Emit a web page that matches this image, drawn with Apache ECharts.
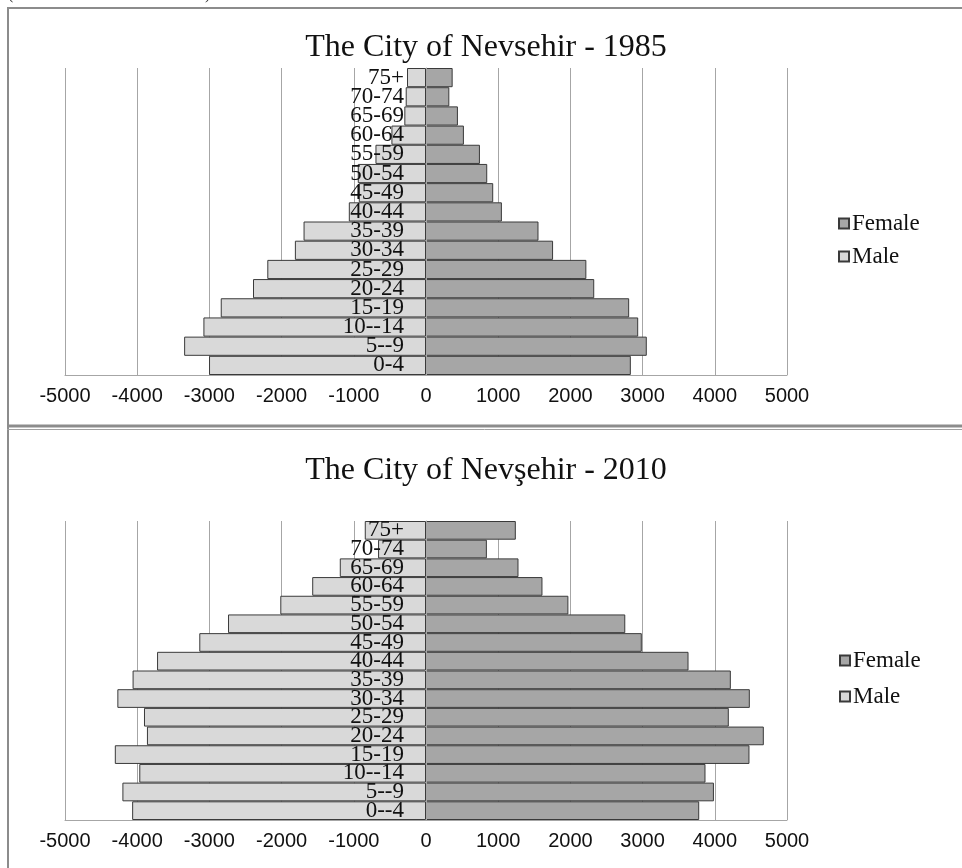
<!DOCTYPE html>
<html>
<head>
<meta charset="utf-8">
<script src="https://cdn.jsdelivr.net/npm/echarts@6/dist/echarts.min.js"></script>
<style>
html,body{margin:0;padding:0;background:#fff;}
#chart{width:962px;height:868px;}
</style>
</head>
<body>
<div id="chart"></div>
<script>
// ---- data ----
const ageGroups1985 = ['0-4','5--9','10--14','15-19','20-24','25-29','30-34','35-39','40-44','45-49','50-54','55-59','60-64','65-69','70-74','75+'];
const ageGroups2010 = ['0--4','5--9','10--14','15-19','20-24','25-29','30-34','35-39','40-44','45-49','50-54','55-59','60-64','65-69','70-74','75+'];
const male1985   = [3005,3350,3083,2843,2396,2198,1816,1696,1069,931,945,700,479,300,281,263];
const female1985 = [2837,3058,2939,2814,2330,2221,1760,1558,1051,931,848,747,525,442,323,369];
const male2010   = [4070,4205,3971,4310,3865,3906,4275,4064,3725,3140,2742,2018,1576,1194,664,848];
const female2010 = [3784,3988,3871,4480,4679,4194,4485,4222,3636,2989,2760,1972,1613,1281,843,1244];
const xTicks = [-5000,-4000,-3000,-2000,-1000,0,1000,2000,3000,4000,5000];
const titles = ['The City of Nevsehir - 1985','The City of Nevşehir - 2010'];
const seriesNames = ['Female','Male'];

// ---- styles ----
const SERIF = '"Liberation Serif","Times New Roman",serif';
const NARROW = '"Liberation Sans Narrow","Liberation Sans",sans-serif';
const MALE_COLOR = '#d9d9d9';
const FEMALE_COLOR = '#a6a6a6';
const BORDER = '#3a3a3a';
const GRID_COLOR = '#a6a6a6';
const GRID_LEFT = 65, GRID_WIDTH = 722;

const chart = echarts.init(document.getElementById('chart'), null, {renderer:'canvas'});

function xAxisFor(gi){
  return {
    type:'value', gridIndex:gi,
    min:xTicks[0], max:xTicks[xTicks.length-1], interval:xTicks[1]-xTicks[0],
    axisLine:{show:true, lineStyle:{color:GRID_COLOR, width:1}},
    axisTick:{show:false},
    splitLine:{show:true, lineStyle:{color:GRID_COLOR, width:1}},
    axisLabel:{margin:11, fontFamily:NARROW, fontSize:20, color:'#111', formatter:v=>String(v)}
  };
}
function yAxisFor(gi, cats){
  return {
    type:'category', gridIndex:gi, data:cats, z:10, position:'left',
    offset:-(GRID_WIDTH/2),
    axisLine:{show:true, onZero:false, lineStyle:{color:GRID_COLOR, width:1}},
    axisTick:{show:false},
    splitLine:{show:false},
    axisLabel:{margin:22, fontFamily:SERIF, fontSize:23, color:'#111', interval:0}
  };
}
function barSeries(name, gi, values, color, sign){
  return {
    name:name, type:'bar', xAxisIndex:gi, yAxisIndex:gi, stack:'pop'+gi,
    barCategoryGap:'0%',
    data:values.map(v=>sign*v),
    itemStyle:{color:color, borderColor:BORDER, borderWidth:1},
    emphasis:{disabled:true},
    animation:false
  };
}

const option = {
  backgroundColor:'#fff',
  animation:false,
  title:[
    {text:titles[0], left:486, top:32, textAlign:'center', padding:0,
     textStyle:{fontFamily:SERIF, fontSize:32, fontWeight:'normal', color:'#111'}},
    {text:titles[1], left:486, top:455, textAlign:'center', padding:0,
     textStyle:{fontFamily:SERIF, fontSize:32, fontWeight:'normal', color:'#111'}}
  ],
  legend:[
    {data:seriesNames, orient:'vertical', left:838, top:212, padding:0, itemGap:10,
     itemWidth:10, itemHeight:10, icon:'rect',
     textStyle:{fontFamily:SERIF, fontSize:23, color:'#111', padding:[0,0,0,-2]}},
    {data:seriesNames, orient:'vertical', left:839, top:649, padding:0, itemGap:13,
     itemWidth:10, itemHeight:10, icon:'rect',
     textStyle:{fontFamily:SERIF, fontSize:23, color:'#111', padding:[0,0,0,-2]}}
  ],
  grid:[
    {left:GRID_LEFT, top:68, width:GRID_WIDTH, height:307, containLabel:false, outerBoundsMode:'none'},
    {left:GRID_LEFT, top:521, width:GRID_WIDTH, height:299, containLabel:false, outerBoundsMode:'none'}
  ],
  xAxis:[xAxisFor(0), xAxisFor(1)],
  yAxis:[yAxisFor(0, ageGroups1985), yAxisFor(1, ageGroups2010)],
  series:[
    barSeries(seriesNames[0], 0, female1985, FEMALE_COLOR, 1),
    barSeries(seriesNames[1], 0, male1985, MALE_COLOR, -1),
    barSeries(seriesNames[0], 1, female2010, FEMALE_COLOR, 1),
    barSeries(seriesNames[1], 1, male2010, MALE_COLOR, -1)
  ],
  graphic:[
    {type:'line', silent:true, shape:{x1:7, y1:8, x2:962, y2:8}, style:{stroke:'#8c8c8c', lineWidth:2}},
    {type:'line', silent:true, shape:{x1:8, y1:7, x2:8, y2:868}, style:{stroke:'#8c8c8c', lineWidth:2}},
    {type:'line', silent:true, shape:{x1:7, y1:426, x2:962, y2:426}, style:{stroke:'#8c8c8c', lineWidth:3}},
    {type:'line', silent:true, shape:{x1:7, y1:429.5, x2:962, y2:429.5}, style:{stroke:'#a0a0a0', lineWidth:1}},
    {type:'text', silent:true, x:8, y:-13, style:{text:'(', font:'16px '+SERIF, fill:'#333'}},
    {type:'text', silent:true, x:205, y:-13, style:{text:')', font:'16px '+SERIF, fill:'#333'}}
  ]
};
chart.setOption(option);
</script>
</body>
</html>
